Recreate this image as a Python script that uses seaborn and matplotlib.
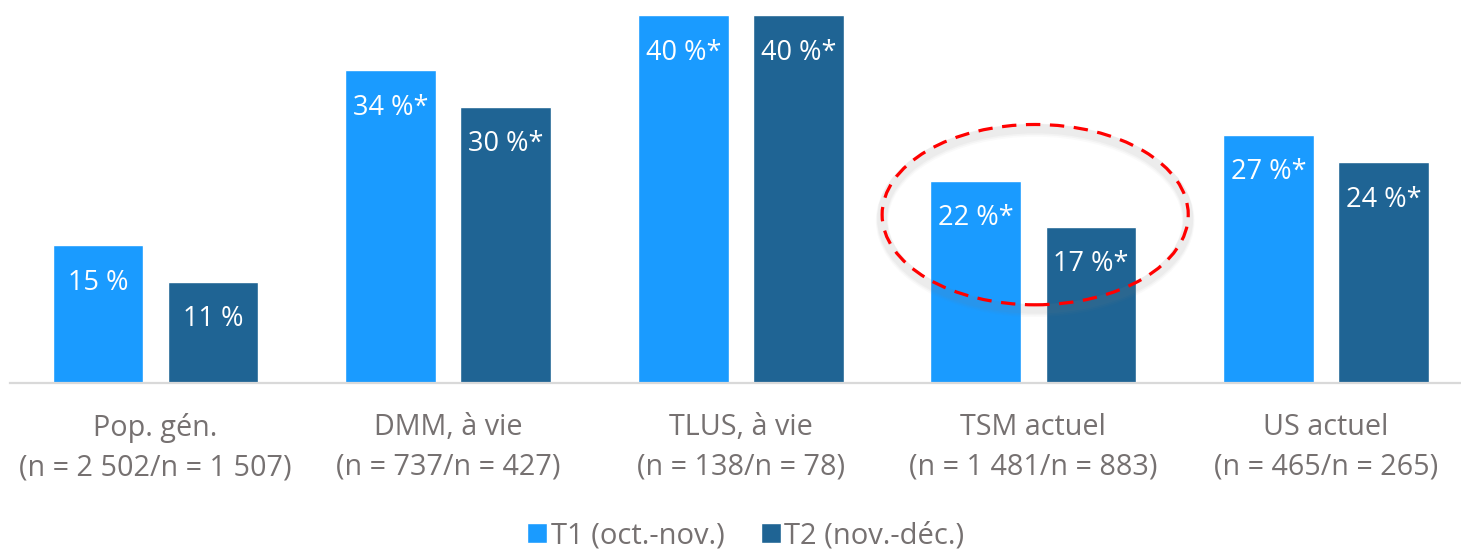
import matplotlib
matplotlib.use("Agg")
import matplotlib.pyplot as plt
import matplotlib.transforms as mtransforms
from matplotlib.patches import Ellipse
import seaborn as sns
import pandas as pd

# ---- data ----
categories = [
    "Pop. gén.\n(n = 2 502/n = 1 507)",
    "DMM, à vie\n(n = 737/n = 427)",
    "TLUS, à vie\n(n = 138/n = 78)",
    "TSM actuel\n(n = 1 481/n = 883)",
    "US actuel\n(n = 465/n = 265)",
]
series_names = ["T1 (oct.-nov.)", "T2 (nov.-déc.)"]
t1_values = [15, 34, 40, 22, 27]
t2_values = [11, 30, 40, 17, 24]
t1_labels = ["15 %", "34 %*", "40 %*", "22 %*", "27 %*"]
t2_labels = ["11 %", "30 %*", "40 %*", "17 %*", "24 %*"]
highlight_category = "TSM actuel\n(n = 1 481/n = 883)"

colors = ["#1A9BFF", "#1F6494"]
text_gray = "#767171"

sns.set_theme(style="white")
plt.rcParams["font.family"] = ["Open Sans", "DejaVu Sans"]

df = pd.DataFrame({
    "cat": categories * 2,
    "val": t1_values + t2_values,
    "serie": [series_names[0]] * len(categories) + [series_names[1]] * len(categories),
})

W, H = 1461, 550
fig = plt.figure(figsize=(W / 100, H / 100), dpi=100)
ax = fig.add_axes([10 / W, 167 / H, (W - 10) / W, 368 / H])

sns.barplot(data=df, x="cat", y="val", hue="serie", hue_order=series_names,
            palette=colors, width=0.786, gap=0.21, saturation=1,
            ax=ax, errorbar=None)

ax.set_ylim(0, 40)
ax.set_xlim(-0.497, 4.461)
ax.set_xlabel("")
ax.set_ylabel("")
ax.set_yticks([])
for s in ["top", "left", "right"]:
    ax.spines[s].set_visible(False)
ax.spines["bottom"].set_color("#D9D9D9")
ax.spines["bottom"].set_linewidth(1.6)
ax.tick_params(axis="x", length=0, pad=21.5, labelsize=20.7, labelcolor=text_gray)
for t in ax.get_xticklabels():
    t.set_linespacing(1.5)

# value labels inside bars
for cont, labs in zip(ax.containers, [t1_labels, t2_labels]):
    for bar, lab in zip(cont, labs):
        ax.annotate(lab, (bar.get_x() + bar.get_width() / 2, bar.get_height()),
                    xytext=(0, -27), textcoords="offset points",
                    ha="center", va="center", color="white", fontsize=19.5)

# legend
handles, labels = ax.get_legend_handles_labels()
ax.legend_.remove()
fig.legend(handles, labels, loc="center", bbox_to_anchor=(0.5106, 1 - 536 / H),
           ncol=2, frameon=False, fontsize=21, labelcolor=text_gray,
           handlelength=0.68, handleheight=0.68, handletextpad=0.12,
           columnspacing=1.25)

# highlight ellipse
xi = categories.index(highlight_category)
center = (xi + 0.006, 18.3)
ew, eh = 1.046, 19.6
for k, a in zip([6, 5, 4], [0.04, 0.05, 0.06]):
    off = mtransforms.offset_copy(ax.transData, fig=fig, x=0, y=-k, units="dots")
    ax.add_patch(Ellipse(center, ew, eh, fill=False, edgecolor="gray",
                         lw=3 + k, alpha=a, transform=off, clip_on=False))
ax.add_patch(Ellipse(center, ew, eh, fill=False, edgecolor="#FF0000", lw=2.3,
                     linestyle=(0, (4.5, 3)), clip_on=False))

fig.savefig("out.png", dpi=100)
